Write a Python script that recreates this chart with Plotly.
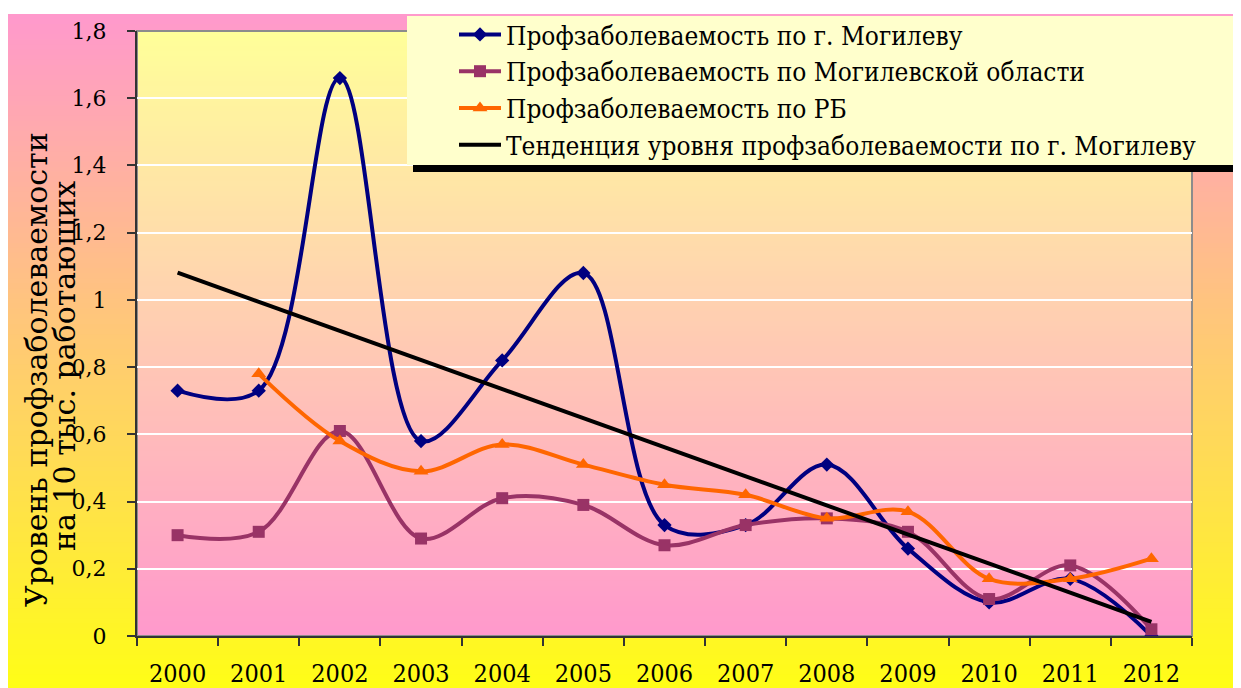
import numpy as np
import plotly.graph_objects as go

# ---------------- data ----------------
years = ["2000", "2001", "2002", "2003", "2004", "2005", "2006",
         "2007", "2008", "2009", "2010", "2011", "2012"]
mogilev_city = [0.73, 0.73, 1.66, 0.58, 0.82, 1.08, 0.33, 0.33, 0.51, 0.26, 0.10, 0.17, 0.00]
mogilev_region = [0.30, 0.31, 0.61, 0.29, 0.41, 0.39, 0.27, 0.33, 0.35, 0.31, 0.11, 0.21, 0.02]
belarus = [None, 0.78, 0.58, 0.49, 0.57, 0.51, 0.45, 0.42, 0.35, 0.37, 0.17, 0.17, 0.23]
y_tickvals = [0, 0.2, 0.4, 0.6, 0.8, 1.0, 1.2, 1.4, 1.6, 1.8]
y_ticktext = ["0", "0,2", "0,4", "0,6", "0,8", "1", "1,2", "1,4", "1,6", "1,8"]
names = ["Профзаболеваемость по г. Могилеву",
         "Профзаболеваемость по Могилевской области",
         "Профзаболеваемость по РБ",
         "Тенденция уровня профзаболеваемости по г. Могилеву"]

# linear trend of the city series (least squares, as in the original chart)
idx = np.arange(len(years))
slope, intercept = np.polyfit(idx, np.array(mogilev_city), 1)
trend = list(intercept + slope * idx)

# ---------------- layout geometry ----------------
OFF = 8
W, H = 1241, 688
L, R, T, B = 137 - OFF, 1192 - OFF, 31 - OFF, 636 - OFF
PW, PH = R - L, B - T

def sx(p):
    return (p - OFF - L) / PW

def sy(p):
    return (B - (p - OFF)) / PH

def hex2rgb(h):
    h = h.lstrip("#")
    return [int(h[i:i + 2], 16) for i in (0, 2, 4)]

def lerp(c1, c2, t):
    a, b = hex2rgb(c1), hex2rgb(c2)
    return "rgb(%d,%d,%d)" % tuple(round(a[i] + (b[i] - a[i]) * t) for i in range(3))

shapes = []
n_out = 135
y0o, y1o = 14, 700
for i in range(n_out):
    ya = y0o + (y1o - y0o) * i / n_out
    yb = y0o + (y1o - y0o) * (i + 1) / n_out + 0.8
    shapes.append(dict(type="rect", xref="paper", yref="paper", layer="below",
                       x0=sx(8), x1=sx(1260), y0=sy(ya), y1=sy(yb),
                       line=dict(width=0), fillcolor=lerp("#FF99CC", "#FFFF14", i / (n_out - 1))))
n_in = 121
for i in range(n_in):
    ya = T + PH * i / n_in
    yb = T + PH * (i + 1) / n_in + 0.8
    shapes.append(dict(type="rect", xref="paper", yref="paper", layer="below",
                       x0=0, x1=1, y0=(B - ya) / PH, y1=max(0, (B - yb) / PH),
                       line=dict(width=0), fillcolor=lerp("#FFFF99", "#FF99CC", i / (n_in - 1))))
shapes.append(dict(type="rect", xref="paper", yref="paper", layer="below",
                   x0=0, x1=1, y0=0, y1=1, line=dict(color="#8C8C8C", width=2)))
shapes.append(dict(type="rect", xref="paper", yref="paper", layer="above",
                   x0=sx(413), x1=sx(1250), y0=sy(172), y1=sy(22),
                   line=dict(width=0), fillcolor="#000000"))
shapes.append(dict(type="rect", xref="paper", yref="paper", layer="above",
                   x0=sx(407), x1=sx(1237), y0=sy(165), y1=sy(16),
                   line=dict(width=0), fillcolor="#FFFFCC"))

fig = go.Figure()
fig.add_trace(go.Scatter(x=years, y=mogilev_city, name=names[0], mode="lines+markers",
                         line=dict(color="#000080", width=4, shape="spline", smoothing=1),
                         marker=dict(symbol="diamond", size=11, color="#000080"),
                         legendgroup="a"))
fig.add_trace(go.Scatter(x=years, y=mogilev_region, name=names[1], mode="lines+markers",
                         line=dict(color="#993366", width=4, shape="spline", smoothing=1),
                         marker=dict(symbol="square", size=12, color="#993366"),
                         legendgroup="b"))
fig.add_trace(go.Scatter(x=years, y=belarus, name=names[2], mode="lines+markers",
                         line=dict(color="#FF6600", width=4, shape="spline", smoothing=1),
                         marker=dict(symbol="triangle-up", size=13, color="#FF6600"),
                         legendgroup="c"))
fig.add_trace(go.Scatter(x=years, y=trend, name=names[3], mode="lines",
                         line=dict(color="#000000", width=4),
                         legendgroup="d"))

serif = "DejaVu Serif"
cond = "DejaVu Serif Condensed"

fig.update_layout(
    template="none",
    width=W, height=H,
    margin=dict(l=L, r=W - R, t=T, b=H - B, pad=0, autoexpand=False),
    paper_bgcolor="#FFFFFF",
    plot_bgcolor="rgba(0,0,0,0)",
    shapes=shapes,
    showlegend=True,
    legend=dict(x=sx(454), y=sy(11), xanchor="left", yanchor="top",
                bgcolor="rgba(0,0,0,0)", borderwidth=0,
                font=dict(family=cond, size=26, color="#000000"),
                itemwidth=42, tracegroupgap=1, traceorder="normal"),
    font=dict(family=serif, color="#000000"),
    annotations=[
        dict(text="Уровень профзаболеваемости", xref="paper", yref="paper",
             x=sx(36), y=sy(370), textangle=-90, showarrow=False,
             font=dict(family=serif, size=30, color="#000000"),
             xanchor="center", yanchor="middle"),
        dict(text="на 10 тыс. работающих", xref="paper", yref="paper",
             x=sx(65), y=sy(366), textangle=-90, showarrow=False,
             font=dict(family=serif, size=30, color="#000000"),
             xanchor="center", yanchor="middle"),
    ],
)

fig.update_xaxes(type="category", categoryorder="array", categoryarray=years,
                 automargin=False,
                 showline=True, linecolor="#333333", linewidth=2,
                 ticks="outside", ticklen=8, tickwidth=1.5, tickcolor="#333333",
                 tickson="boundaries", showgrid=False, zeroline=False,
                 tickfont=dict(family=cond, size=25, color="#000000"),
                 ticklabelstandoff=14, range=[-0.5, 12.5])
fig.update_yaxes(range=[0, 1.8], tickvals=y_tickvals, ticktext=y_ticktext,
                 automargin=False,
                 showline=True, linecolor="#333333", linewidth=2,
                 ticks="outside", ticklen=8, tickwidth=1.5, tickcolor="#333333",
                 showgrid=True, gridcolor="#FFFFFF", gridwidth=2, zeroline=False,
                 tickfont=dict(family=serif, size=22, color="#000000"),
                 ticklabelstandoff=16)

fig.write_html("out.html")
